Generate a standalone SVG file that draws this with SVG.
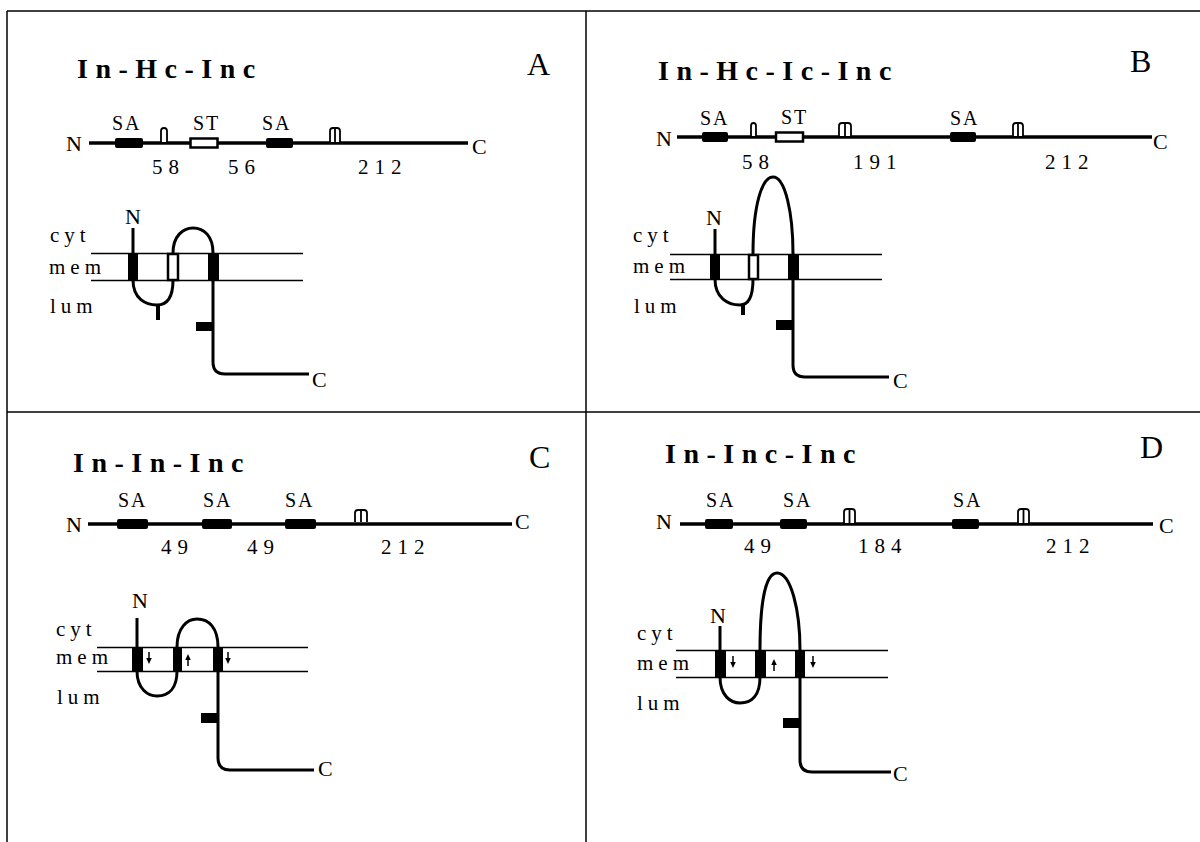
<svg xmlns="http://www.w3.org/2000/svg" width="1200" height="842" viewBox="0 0 1200 842">
<style>
text{font-family:"Liberation Serif","Times New Roman",serif;fill:#000}
.ttl{font-size:28px;font-weight:bold;letter-spacing:7.5px}
.pl{font-size:32px}
.lb{font-size:20px;letter-spacing:2px}
.nc{font-size:22px}
.num{font-size:21px;letter-spacing:6px}
.reg{font-size:21px;letter-spacing:5px}
.frame{stroke:#000;stroke-width:1.5;fill:none}
.seq{stroke:#000;stroke-width:3.5;fill:none}
.sa{fill:#000}
.st{fill:#fff;stroke:#000;stroke-width:2.5}
.hook{fill:#fff;stroke:#000;stroke-width:1.8}
.mem{stroke:#000;stroke-width:1.3;fill:none}
.prot{stroke:#000;stroke-width:3;fill:none;stroke-linejoin:round}
.tm{fill:#000}
.tmo{fill:#fff;stroke:#000;stroke-width:2.5}
</style>
<defs>
<g id="dn"><line x1="0" y1="-6" x2="0" y2="1" stroke="#000" stroke-width="1.5"/><polygon points="-2.8,0 2.8,0 0,6" fill="#000"/></g>
<g id="up"><line x1="0" y1="6" x2="0" y2="-1" stroke="#000" stroke-width="1.5"/><polygon points="-2.8,0 2.8,0 0,-6" fill="#000"/></g>
</defs>

<g id="frame">
<line class="frame" x1="7" y1="11" x2="1200" y2="11"/>
<line class="frame" x1="7" y1="11" x2="7" y2="842"/>
<line class="frame" x1="586" y1="11" x2="586" y2="842"/>
<line class="frame" x1="7" y1="412" x2="1200" y2="412"/>
</g>

<!-- Panel A -->
<g id="panelA">
<text class="ttl" x="77" y="78">In-Hc-Inc</text>
<text class="pl" x="527" y="75">A</text>
<g id="seqA">
<text class="nc" x="66" y="151">N</text>
<line class="seq" x1="89" y1="143" x2="468" y2="143"/>
<text class="nc" x="472" y="154">C</text>
<rect class="sa" x="115" y="138" width="28" height="10" rx="2"/>
<path class="hook" d="M161,142 L161,131 Q161,128 164,128 Q167,128 167,131 L167,142"/>
<rect class="st" x="190.5" y="138.5" width="27" height="9"/>
<rect class="sa" x="266" y="138" width="27" height="10" rx="2"/>
<path class="hook" d="M330,142 L330,131 Q330,128 333,128 L337,128 Q340,128 340,131 L340,142 M335,142 L335,128"/>
<text class="lb" x="112" y="130">SA</text>
<text class="lb" x="193" y="130">ST</text>
<text class="lb" x="262" y="130">SA</text>
<text class="num" x="152" y="174">58</text>
<text class="num" x="228" y="174">56</text>
<text class="num" x="358" y="174">212</text>
</g>
<g id="topoA">
<text class="reg" x="50" y="242">cyt</text>
<text class="reg" x="49" y="274">mem</text>
<text class="reg" x="50" y="313">lum</text>
<line class="mem" x1="91" y1="253.5" x2="303" y2="253.5"/>
<line class="mem" x1="91" y1="280.5" x2="303" y2="280.5"/>
<text class="nc" x="125" y="224">N</text>
<path class="prot" d="M133,228 L133,280 C133,299 146,305 157,305 C168,305 173,296 173,280 L173,253 C173,236 183,228 193,228 C204,228 213,236 213,253 L213,362 Q213,374 225,374 L309,374"/>
<line x1="158" y1="305" x2="158" y2="320" stroke="#000" stroke-width="4"/>
<rect class="tm" x="128" y="253" width="10" height="28"/>
<rect class="tmo" x="168" y="254" width="10" height="26"/>
<rect class="tm" x="208" y="253" width="11" height="28"/>
<rect class="tm" x="196" y="322" width="17" height="9"/>
<text class="nc" x="312" y="387">C</text>
</g>
</g>

<!-- Panel B -->
<g id="panelB">
<text class="ttl" x="658" y="80">In-Hc-Ic-Inc</text>
<text class="pl" x="1130" y="72">B</text>
<g id="seqB">
<text class="nc" x="656" y="146">N</text>
<line class="seq" x1="677" y1="137" x2="1152" y2="137"/>
<text class="nc" x="1153" y="149">C</text>
<rect class="sa" x="702" y="132" width="26" height="10" rx="2"/>
<path class="hook" d="M751,136 L751,126 Q751,123 753.5,123 Q756,123 756,126 L756,136"/>
<rect class="st" x="776" y="132.5" width="27" height="9"/>
<path class="hook" d="M839,136 L839,126 Q839,123 842,123 L848,123 Q851,123 851,126 L851,136 M845,136 L845,123"/>
<rect class="sa" x="950" y="132" width="26" height="10" rx="2"/>
<path class="hook" d="M1013,136 L1013,126 Q1013,123 1016,123 L1020,123 Q1023,123 1023,126 L1023,136 M1018,136 L1018,123"/>
<text class="lb" x="700" y="125">SA</text>
<text class="lb" x="781" y="124">ST</text>
<text class="lb" x="950" y="125">SA</text>
<text class="num" x="742" y="169">58</text>
<text class="num" x="853" y="169">191</text>
<text class="num" x="1045" y="169">212</text>
</g>
<g id="topoB">
<text class="reg" x="633" y="242">cyt</text>
<text class="reg" x="633" y="273">mem</text>
<text class="reg" x="634" y="313">lum</text>
<line class="mem" x1="670" y1="254.5" x2="882" y2="254.5"/>
<line class="mem" x1="670" y1="279.5" x2="882" y2="279.5"/>
<text class="nc" x="706" y="225">N</text>
<path class="prot" d="M715,229 L715,279 C715,298 728,305 740,305 C750,305 753,295 753,279 L753,254 C753,205 762,177 773,177 C785,177 793,212 793,254 L793,365 Q793,377 805,377 L889,377"/>
<line x1="743" y1="305" x2="743" y2="315" stroke="#000" stroke-width="4"/>
<rect class="tm" x="710" y="254" width="10" height="26"/>
<rect class="tmo" x="749" y="255" width="9" height="24"/>
<rect class="tm" x="788" y="254" width="11" height="26"/>
<rect class="tm" x="776" y="320" width="17" height="10"/>
<text class="nc" x="893" y="388">C</text>
</g>
</g>

<!-- Panel C -->
<g id="panelC">
<text class="ttl" x="73" y="472">In-In-Inc</text>
<text class="pl" x="529" y="468">C</text>
<g id="seqC">
<text class="nc" x="66" y="532">N</text>
<line class="seq" x1="88" y1="524" x2="512" y2="524"/>
<text class="nc" x="515" y="529">C</text>
<rect class="sa" x="117" y="519" width="31" height="10" rx="2"/>
<rect class="sa" x="202" y="519" width="30" height="10" rx="2"/>
<rect class="sa" x="285" y="519" width="31" height="10" rx="2"/>
<path class="hook" d="M355,522 L355,513 Q355,510 358,510 L364,510 Q367,510 367,513 L367,522 M361,522 L361,510"/>
<text class="lb" x="118" y="507">SA</text>
<text class="lb" x="203" y="507">SA</text>
<text class="lb" x="285" y="507">SA</text>
<text class="num" x="161" y="554">49</text>
<text class="num" x="247" y="554">49</text>
<text class="num" x="381" y="554">212</text>
</g>
<g id="topoC">
<text class="reg" x="56" y="636">cyt</text>
<text class="reg" x="56" y="664">mem</text>
<text class="reg" x="57" y="704">lum</text>
<line class="mem" x1="97" y1="647.5" x2="308" y2="647.5"/>
<line class="mem" x1="97" y1="671.5" x2="308" y2="671.5"/>
<text class="nc" x="132" y="608">N</text>
<path class="prot" d="M137,618 L137,671 C137,689 148,696 157,696 C169,696 177,688 177,671 L177,647 C177,628 187,619 197,619 C209,619 218,628 218,647 L218,758 Q218,770 230,770 L314,770"/>
<rect class="tm" x="132" y="647" width="11" height="25"/>
<rect class="tm" x="173" y="647" width="9" height="25"/>
<rect class="tm" x="213" y="647" width="10" height="25"/>
<use href="#dn" x="149" y="658"/>
<use href="#up" x="188" y="660"/>
<use href="#dn" x="228" y="658"/>
<rect class="tm" x="201" y="713" width="17" height="10"/>
<text class="nc" x="318" y="776">C</text>
</g>
</g>

<!-- Panel D -->
<g id="panelD">
<text class="ttl" x="665" y="463">In-Inc-Inc</text>
<text class="pl" x="1140" y="458">D</text>
<g id="seqD">
<text class="nc" x="656" y="529">N</text>
<line class="seq" x1="680" y1="524" x2="1153" y2="524"/>
<text class="nc" x="1159" y="533">C</text>
<rect class="sa" x="705" y="519" width="28" height="10" rx="2"/>
<rect class="sa" x="780" y="519" width="27" height="10" rx="2"/>
<rect class="sa" x="952" y="519" width="27" height="10" rx="2"/>
<path class="hook" d="M844,523 L844,512 Q844,509 847,509 L852,509 Q855,509 855,512 L855,523 M849.5,523 L849.5,509"/>
<path class="hook" d="M1018,523 L1018,512 Q1018,509 1021,509 L1026,509 Q1029,509 1029,512 L1029,523 M1023.5,523 L1023.5,509"/>
<text class="lb" x="706" y="507">SA</text>
<text class="lb" x="783" y="507">SA</text>
<text class="lb" x="953" y="507">SA</text>
<text class="num" x="744" y="553">49</text>
<text class="num" x="858" y="553">184</text>
<text class="num" x="1046" y="553">212</text>
</g>
<g id="topoD">
<text class="reg" x="637" y="640">cyt</text>
<text class="reg" x="637" y="670">mem</text>
<text class="reg" x="637" y="710">lum</text>
<line class="mem" x1="676" y1="650.5" x2="888" y2="650.5"/>
<line class="mem" x1="676" y1="677.5" x2="888" y2="677.5"/>
<text class="nc" x="710" y="623">N</text>
<path class="prot" d="M720,626 L720,677 C720,696 731,703 740,703 C752,703 760,695 760,677 L760,650 C760,600 766,573 777,573 C791,573 800,610 800,650 L800,760 Q800,772 812,772 L891,772"/>
<rect class="tm" x="715" y="650" width="11" height="28"/>
<rect class="tm" x="755" y="650" width="11" height="28"/>
<rect class="tm" x="795" y="650" width="10" height="28"/>
<use href="#dn" x="733" y="662"/>
<use href="#up" x="774" y="665"/>
<use href="#dn" x="813" y="662"/>
<rect class="tm" x="783" y="718" width="17" height="10"/>
<text class="nc" x="893" y="781">C</text>
</g>
</g>
</svg>
